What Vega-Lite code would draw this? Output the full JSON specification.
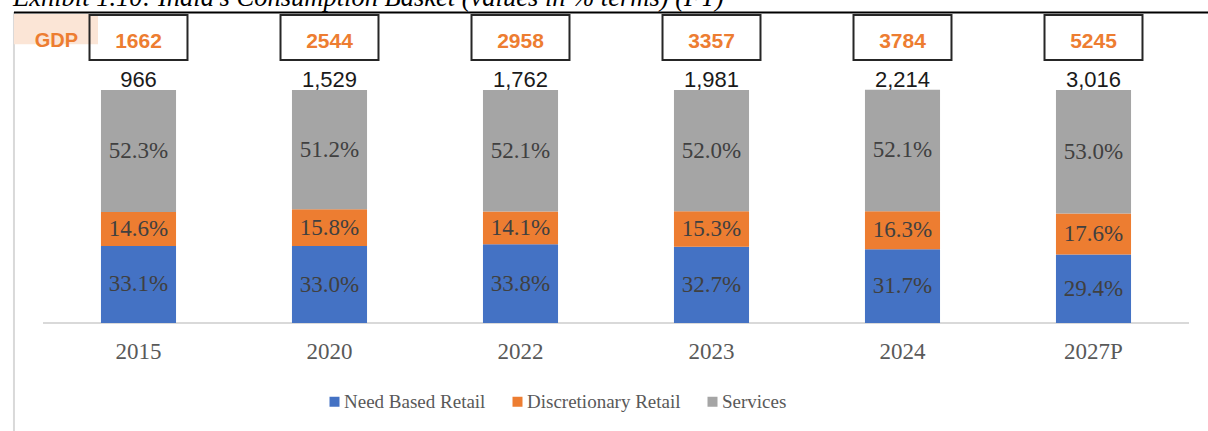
{
  "$schema": "https://vega.github.io/schema/vega-lite/v6.json",
  "width": 1194,
  "height": 419,
  "autosize": {"type": "none"},
  "padding": {"left": 14, "top": 12, "right": 0, "bottom": 0},
  "config": {"view": {"stroke": null}},
  "datasets": {
    "shares": [
      {"year": "2015", "segment": "Need Based Retail", "rank": 1, "share": 0.331},
      {"year": "2015", "segment": "Discretionary Retail", "rank": 2, "share": 0.146},
      {"year": "2015", "segment": "Services", "rank": 3, "share": 0.523},
      {"year": "2020", "segment": "Need Based Retail", "rank": 1, "share": 0.330},
      {"year": "2020", "segment": "Discretionary Retail", "rank": 2, "share": 0.158},
      {"year": "2020", "segment": "Services", "rank": 3, "share": 0.512},
      {"year": "2022", "segment": "Need Based Retail", "rank": 1, "share": 0.338},
      {"year": "2022", "segment": "Discretionary Retail", "rank": 2, "share": 0.141},
      {"year": "2022", "segment": "Services", "rank": 3, "share": 0.521},
      {"year": "2023", "segment": "Need Based Retail", "rank": 1, "share": 0.327},
      {"year": "2023", "segment": "Discretionary Retail", "rank": 2, "share": 0.153},
      {"year": "2023", "segment": "Services", "rank": 3, "share": 0.520},
      {"year": "2024", "segment": "Need Based Retail", "rank": 1, "share": 0.317},
      {"year": "2024", "segment": "Discretionary Retail", "rank": 2, "share": 0.163},
      {"year": "2024", "segment": "Services", "rank": 3, "share": 0.521},
      {"year": "2027P", "segment": "Need Based Retail", "rank": 1, "share": 0.294},
      {"year": "2027P", "segment": "Discretionary Retail", "rank": 2, "share": 0.176},
      {"year": "2027P", "segment": "Services", "rank": 3, "share": 0.530}
    ],
    "years": [
      {"year": "2015", "total": 966, "gdp": 1662},
      {"year": "2020", "total": 1529, "gdp": 2544},
      {"year": "2022", "total": 1762, "gdp": 2958},
      {"year": "2023", "total": 1981, "gdp": 3357},
      {"year": "2024", "total": 2214, "gdp": 3784},
      {"year": "2027P", "total": 3016, "gdp": 5245}
    ]
  },
  "layer": [
    {
      "data": {"values": [{"label": "Exhibit 1.10: India's Consumption Basket (values in % terms) (FY)"}]},
      "mark": {"type": "text", "font": "Liberation Serif", "fontStyle": "italic", "fontSize": 26.5, "color": "#000000", "baseline": "alphabetic", "align": "left", "clip": false},
      "encoding": {
        "x": {"datum": "2015", "type": "nominal", "bandPosition": -0.157},
        "y": {"datum": 1.3608, "type": "quantitative", "axis": null},
        "text": {"field": "label"}
      }
    },
    {
      "data": {"values": [{"label": "GDP"}]},
      "mark": {"type": "rule", "color": "#d9d9d9", "strokeWidth": 2},
      "encoding": {
        "x": {"datum": "2015", "type": "nominal", "bandPosition": -0.152}
      }
    },
    {
      "data": {"values": [{"label": "GDP"}]},
      "mark": {"type": "rule", "color": "#000000", "strokeWidth": 2},
      "encoding": {
        "y": {"datum": 1.333, "type": "quantitative", "axis": null}
      }
    },
    {
      "data": {"values": [{"label": "GDP"}]},
      "mark": {"type": "rect", "fill": "#fbe5d6"},
      "encoding": {
        "x": {"datum": "2015", "type": "nominal", "bandPosition": -0.152},
        "x2": {"datum": "2015", "bandPosition": 0.288},
        "y": {"datum": 1.326, "type": "quantitative", "axis": null},
        "y2": {"datum": 1.197}
      }
    },
    {
      "data": {"values": [{"label": "GDP"}]},
      "mark": {"type": "text", "font": "Liberation Sans", "fontWeight": "bold", "fontSize": 20, "color": "#ed7d31", "baseline": "alphabetic", "align": "center"},
      "encoding": {
        "x": {"datum": "2015", "type": "nominal", "bandPosition": 0.07},
        "y": {"datum": 1.185, "type": "quantitative", "axis": null},
        "text": {"field": "label"}
      }
    },
    {
      "data": {"values": [{"label": "GDP"}]},
      "mark": {"type": "rule", "color": "#d9d9d9", "strokeWidth": 2},
      "encoding": {
        "x": {"datum": "2015", "type": "nominal", "bandPosition": 0},
        "x2": {"datum": "2027P", "bandPosition": 1},
        "y": {"datum": 0, "type": "quantitative", "axis": null}
      }
    },
    {
      "data": {"name": "shares"},
      "mark": {"type": "bar", "width": {"band": 0.393}},
      "encoding": {
        "x": {
          "field": "year",
          "type": "nominal",
          "title": null,
          "scale": {"domain": ["2015", "2020", "2022", "2023", "2024", "2027P"], "range": [29, 1175], "paddingInner": 0, "paddingOuter": 0},
          "axis": {
            "offset": -108,
            "domain": false,
            "ticks": false,
            "tickSize": 0,
            "bandPosition": 0.5,
            "labelFont": "Liberation Serif",
            "labelFontSize": 23,
            "labelColor": "#595959",
            "labelBaseline": "alphabetic",
            "labelAlign": "center",
            "labelPadding": 35,
            "labelAngle": 0,
            "grid": false
          }
        },
        "y": {
          "field": "share",
          "type": "quantitative",
          "stack": "zero",
          "axis": null,
          "scale": {"domain": [0, 1.335], "range": [311, 0], "nice": false, "zero": true}
        },
        "color": {
          "field": "segment",
          "type": "nominal",
          "scale": {"domain": ["Need Based Retail", "Discretionary Retail", "Services"], "range": ["#4472c4", "#ed7d31", "#a5a5a5"]},
          "legend": {
            "orient": "none",
            "legendX": 311,
            "legendY": 380,
            "direction": "horizontal",
            "title": null,
            "symbolType": "square",
            "symbolSize": 100,
            "symbolStrokeWidth": 0,
            "labelFont": "Liberation Serif",
            "labelFontSize": 19,
            "labelColor": "#595959",
            "labelOffset": 0,
            "columnPadding": 22
          }
        },
        "order": {"field": "rank", "type": "quantitative"}
      }
    },
    {
      "data": {"name": "shares"},
      "mark": {"type": "text", "font": "Liberation Serif", "fontSize": 23, "color": "#404040", "baseline": "middle", "align": "center"},
      "encoding": {
        "x": {"field": "year", "type": "nominal", "title": null},
        "y": {"field": "share", "type": "quantitative", "stack": "zero", "bandPosition": 0.5, "axis": null},
        "detail": {"field": "segment", "type": "nominal"},
        "order": {"field": "rank", "type": "quantitative"},
        "text": {"field": "share", "type": "quantitative", "format": ".1%"}
      }
    },
    {
      "data": {"name": "years"},
      "mark": {"type": "bar", "width": {"band": 0.513}, "fill": null, "stroke": "#262626", "strokeWidth": 2},
      "encoding": {
        "x": {"field": "year", "type": "nominal", "title": null},
        "y": {"datum": 1.129, "type": "quantitative", "axis": null},
        "y2": {"datum": 1.322}
      }
    },
    {
      "data": {"name": "years"},
      "mark": {"type": "text", "font": "Liberation Sans", "fontWeight": "bold", "fontSize": 21, "color": "#ed7d31", "baseline": "alphabetic", "align": "center"},
      "encoding": {
        "x": {"field": "year", "type": "nominal", "title": null},
        "y": {"datum": 1.18, "type": "quantitative", "axis": null},
        "text": {"field": "gdp", "type": "quantitative", "format": "d"}
      }
    },
    {
      "data": {"name": "years"},
      "mark": {"type": "text", "font": "Liberation Sans", "fontSize": 22, "color": "#1a1a1a", "baseline": "alphabetic", "align": "center", "dy": -3},
      "encoding": {
        "x": {"field": "year", "type": "nominal", "title": null},
        "y": {"datum": 1.0, "type": "quantitative", "axis": null},
        "text": {"field": "total", "type": "quantitative", "format": ","}
      }
    }
  ]
}
